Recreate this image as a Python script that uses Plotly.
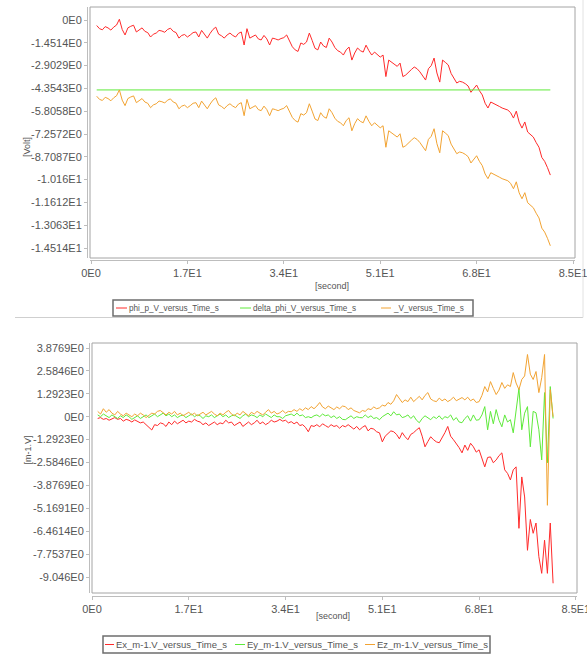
import plotly.graph_objects as go

# ---------------- data ----------------
time_s = [1.0 + 0.5 * i for i in range(161)]

phi_p = [-0.35, -0.55, -0.62, -0.42, -0.5, -0.64, -0.45, -0.32, 0.05, -0.6,
         -0.95, -0.5, -0.4, -0.33, -0.76, -0.6, -0.5, -0.72, -0.8, -1.08,
         -0.9, -0.83, -0.66, -0.7, -0.78, -0.6, -0.52, -0.72, -0.8, -1.15,
         -0.98, -0.92, -1.08, -0.95, -0.8, -0.76, -1.08, -0.66, -0.9, -1.15,
         -0.85, -0.6, -0.45, -0.9, -1.0, -1.15, -0.95, -0.83, -0.98, -1.08,
         -0.85, -0.76, -1.59, -0.55, -1.15, -1.05, -0.95, -1.2, -1.27, -0.98,
         -1.2, -1.59, -1.15, -1.2, -1.27, -1.18, -1.12, -0.95, -1.35, -1.7,
         -1.9, -2.0, -1.46, -1.55, -1.4, -0.83, -1.3, -1.8, -1.9, -1.4,
         -1.65, -1.75, -1.15, -1.4, -1.75, -1.95, -2.04, -2.23, -1.9, -1.72,
         -2.55, -2.1, -1.78, -1.95, -2.04, -1.6, -1.95, -2.23, -2.04, -2.2,
         -2.36, -2.23, -3.6, -2.55, -2.7, -2.86, -2.95, -2.74, -3.6, -3.5,
         -3.3, -3.15, -2.99, -3.1, -3.3, -3.6, -3.82, -3.1, -2.9, -2.42,
         -3.37, -3.95, -2.55, -2.7, -2.86, -3.4, -3.7, -4.01, -3.9, -3.95,
         -4.05, -4.2, -4.6, -4.4, -4.14, -4.5, -4.77, -5.3, -5.6, -5.22,
         -5.3, -5.41, -5.5, -5.6, -5.65, -5.73, -5.9, -6.24, -5.8, -6.5,
         -6.88, -6.49, -7.13, -7.3, -7.45, -7.8, -8.1, -8.75, -9.0, -9.4,
         -9.87]

total_v = [-4.85, -5.05, -5.12, -4.92, -5.0, -5.14, -4.95, -4.82, -4.45, -5.1,
           -5.45, -5.0, -4.9, -4.83, -5.26, -5.1, -5.0, -5.22, -5.3, -5.58,
           -5.4, -5.33, -5.16, -5.2, -5.28, -5.1, -5.02, -5.22, -5.3, -5.65,
           -5.48, -5.42, -5.58, -5.45, -5.3, -5.26, -5.58, -5.16, -5.4, -5.65,
           -5.35, -5.1, -4.95, -5.4, -5.5, -5.65, -5.45, -5.33, -5.48, -5.58,
           -5.35, -5.26, -6.09, -5.05, -5.65, -5.55, -5.45, -5.7, -5.77, -5.48,
           -5.7, -6.09, -5.65, -5.7, -5.77, -5.68, -5.62, -5.45, -5.85, -6.2,
           -6.4, -6.5, -5.96, -6.05, -5.9, -5.33, -5.8, -6.3, -6.4, -5.9,
           -6.15, -6.25, -5.65, -5.9, -6.25, -6.45, -6.54, -6.73, -6.4, -6.22,
           -7.05, -6.6, -6.28, -6.45, -6.54, -6.1, -6.45, -6.73, -6.54, -6.7,
           -6.86, -6.73, -8.1, -7.05, -7.2, -7.36, -7.45, -7.24, -8.1, -8.0,
           -7.8, -7.65, -7.49, -7.6, -7.8, -8.1, -8.32, -7.6, -7.4, -6.92,
           -7.87, -8.45, -7.05, -7.2, -7.36, -7.9, -8.2, -8.51, -8.4, -8.45,
           -8.55, -8.7, -9.1, -8.9, -8.64, -9.0, -9.27, -9.8, -10.1, -9.72,
           -9.8, -9.91, -10.0, -10.1, -10.15, -10.23, -10.4, -10.74, -10.3, -11.0,
           -11.38, -10.99, -11.63, -11.8, -11.95, -12.3, -12.6, -13.25, -13.5, -13.9,
           -14.37]

delta_phi_time = [1.0, 81.0]
delta_phi = [-4.45, -4.45]

ex = [-0.1, -0.05, -0.15, -0.1, -0.2, -0.12, -0.05, -0.15, -0.1, -0.25,
      -0.15, -0.2, -0.3, -0.18, -0.25, -0.35, -0.3, -0.45, -0.6, -0.75,
      -0.45, -0.5, -0.35, -0.4, -0.55, -0.3, -0.45, -0.25, -0.4, -0.3,
      -0.2, -0.35, -0.25, -0.3, -0.15, -0.25, -0.3, -0.45, -0.35, -0.5,
      -0.4, -0.3, -0.45, -0.35, -0.4, -0.2, -0.35, -0.3, -0.5, -0.4,
      -0.3, -0.55, -0.4, -0.3, -0.45, -0.35, -0.2, -0.4, -0.3, -0.45,
      -0.35, -0.2, -0.3, -0.25, -0.15, -0.25, -0.2, -0.35, -0.28, -0.4,
      -0.3, -0.5, -0.45, -0.6, -0.85, -0.5, -0.55, -0.45, -0.57, -0.4,
      -0.5, -0.6, -0.45, -0.55, -0.5, -0.65, -0.5, -0.57, -0.45, -0.6,
      -0.7, -0.55, -0.74, -0.6, -0.5, -0.8, -0.65, -0.7, -0.85, -0.91,
      -1.42, -1.1, -0.95, -0.8, -0.85, -1.0, -1.25, -0.9, -1.13, -1.3,
      -1.0, -0.9, -0.75, -0.62, -1.1, -1.7, -1.4, -1.13, -1.3, -1.42,
      -1.47, -1.2, -0.9, -0.55, -1.1, -1.3, -1.5, -1.75, -2.04, -1.6,
      -1.9, -1.5, -1.7, -2.0, -1.87, -2.3, -2.83, -2.3, -2.27, -2.6,
      -2.44, -2.2, -2.04, -3.0, -3.2, -3.57, -3.0, -2.83, -6.3, -3.4,
      -4.53, -7.54, -5.8, -6.58, -6.0, -7.9, -8.84, -6.97, -8.84, -6.0,
      -9.4]

ey = [0.1, 0.0, 0.15, 0.05, -0.05, 0.1, 0.0, -0.1, 0.05, -0.05,
      0.1, 0.0, -0.15, -0.05, 0.05, -0.1, 0.0, 0.1, -0.05, 0.05,
      0.15, 0.0, 0.1, 0.2, 0.05, 0.15, 0.0, 0.1, -0.05, 0.05,
      0.1, -0.05, 0.05, 0.15, 0.0, 0.1, 0.05, -0.1, 0.05, 0.0,
      0.1, -0.05, 0.05, 0.15, 0.0, 0.1, -0.05, 0.05, 0.1, 0.0,
      -0.1, 0.05, 0.15, 0.0, 0.1, 0.05, -0.05, 0.1, 0.0, 0.15,
      0.05, -0.05, 0.1, 0.0, 0.0, -0.1, 0.05, 0.1, 0.15, 0.05,
      0.2, 0.05, 0.1, -0.05, 0.0, -0.06, 0.05, 0.1, 0.0, 0.15,
      0.05, 0.1, -0.05, 0.05, -0.1, 0.0, -0.15, -0.17, -0.05, 0.05,
      -0.1, 0.0, -0.05, -0.06, 0.1, -0.05, 0.05, -0.1, -0.05, -0.17,
      0.0, 0.1, 0.2, 0.05, 0.28, 0.1, 0.15, -0.05, 0.0, 0.1,
      -0.1, 0.05, -0.2, -0.34, -0.1, 0.05, -0.06, -0.17, 0.0, -0.1,
      0.05, -0.15, 0.0, -0.06, 0.1, -0.2, -0.05, -0.3, -0.34, -0.1,
      0.05, -0.25, 0.1, -0.2, -0.17, 0.1, 0.57, -0.74, 0.3, -0.4,
      0.4, -0.2, -0.57, 0.1, -0.3, -0.17, -0.91, 0.5, 1.6, -0.74,
      0.2, 0.57, -1.7, 0.3, 0.22, -0.74, -2.44, 1.36, -2.6, 1.7,
      -0.1]

ez = [0.3, 0.15, 0.45, 0.25, 0.4, 0.2, 0.1, 0.3, 0.15, 0.05,
      0.2, 0.1, 0.0, 0.15, 0.05, 0.2, 0.1, -0.05, 0.1, 0.2,
      0.15, 0.3, 0.35, 0.2, 0.1, 0.25, 0.15, 0.3, 0.1, 0.2,
      0.05, 0.15, 0.25, 0.1, 0.2, 0.05, 0.15, 0.25, 0.1, 0.2,
      0.3, 0.15, 0.05, 0.2, 0.1, 0.25, 0.35, 0.15, 0.05, 0.2,
      0.1, 0.3, 0.2, 0.05, 0.25, 0.15, 0.3, 0.2, 0.1, 0.25,
      0.4, 0.2, 0.3, 0.15, 0.22, 0.35, 0.2, 0.3, 0.28, 0.4,
      0.3, 0.45, 0.35, 0.5, 0.4, 0.57, 0.45, 0.6, 0.8, 0.55,
      0.45, 0.6, 0.5, 0.4, 0.55, 0.45, 0.6, 0.57, 0.4, 0.5,
      0.35, 0.3, 0.22, 0.35, 0.3, 0.45, 0.4, 0.55, 0.45, 0.5,
      0.65, 0.6, 0.8, 0.7, 0.9, 1.25, 1.0, 0.8, 0.95, 0.85,
      1.1, 0.85, 1.0, 1.15, 0.95, 1.2, 1.36, 1.0, 0.9, 0.85,
      1.05, 0.9, 1.0, 0.85, 0.95, 1.1, 0.9, 1.0, 1.08, 0.95,
      1.1, 0.9, 1.0, 0.8, 0.85, 1.2, 1.7, 1.4, 1.98, 1.6,
      1.25, 1.5, 1.93, 1.6, 1.8, 1.7, 2.49, 1.9, 1.53, 2.1,
      2.3, 3.51, 2.4, 2.1, 2.55, 1.36, 2.2, 3.51, -5.0, 1.53,
      0.0]

top_names = ["phi_p_V_versus_Time_s", "delta_phi_V_versus_Time_s", "_V_versus_Time_s"]
bottom_names = ["Ex_m-1.V_versus_Time_s", "Ey_m-1.V_versus_Time_s", "Ez_m-1.V_versus_Time_s"]

x_tickvals = [0, 17, 34, 51, 68, 85]
x_ticktext = ["0E0", "1.7E1", "3.4E1", "5.1E1", "6.8E1", "8.5E1"]
top_tickvals = [0, -1.4514, -2.9029, -4.3543, -5.8058, -7.2572, -8.7087,
                -10.16, -11.612, -13.063, -14.514]
top_ticktext = ["0E0", "-1.4514E0", "-2.9029E0", "-4.3543E0", "-5.8058E0",
                "-7.2572E0", "-8.7087E0", "-1.016E1", "-1.1612E1", "-1.3063E1",
                "-1.4514E1"]
bot_tickvals = [3.8769, 2.5846, 1.2923, 0, -1.2923, -2.5846, -3.8769,
                -5.1691, -6.4614, -7.7537, -9.046]
bot_ticktext = ["3.8769E0", "2.5846E0", "1.2923E0", "0E0", "-1.2923E0",
                "-2.5846E0", "-3.8769E0", "-5.1691E0", "-6.4614E0",
                "-7.7537E0", "-9.046E0"]

colors = ["#ff2a2a", "#5eea3a", "#f2a332"]

# ---------------- layout helpers ----------------
W, H = 587, 656


def fx(p):
    return p / W


def fy(p):
    return 1 - p / H


FONT = "Liberation Sans, Arial, sans-serif"
TXT = "#555555"
FRAME = "#a4a4a4"
AXIS = "#bdbdbd"

fig = go.Figure()

fig.add_trace(go.Scatter(x=time_s, y=phi_p, mode="lines", name=top_names[0],
                         line=dict(color=colors[0], width=1), xaxis="x", yaxis="y"))
fig.add_trace(go.Scatter(x=delta_phi_time, y=delta_phi, mode="lines", name=top_names[1],
                         line=dict(color=colors[1], width=1), xaxis="x", yaxis="y"))
fig.add_trace(go.Scatter(x=time_s, y=total_v, mode="lines", name=top_names[2],
                         line=dict(color=colors[2], width=1), xaxis="x", yaxis="y"))

fig.add_trace(go.Scatter(x=time_s, y=ex, mode="lines", name=bottom_names[0],
                         line=dict(color=colors[0], width=1), xaxis="x2", yaxis="y2"))
fig.add_trace(go.Scatter(x=time_s, y=ey, mode="lines", name=bottom_names[1],
                         line=dict(color=colors[1], width=1), xaxis="x2", yaxis="y2"))
fig.add_trace(go.Scatter(x=time_s, y=ez, mode="lines", name=bottom_names[2],
                         line=dict(color=colors[2], width=1), xaxis="x2", yaxis="y2"))

axis_common = dict(showgrid=False, zeroline=False, showline=True, linecolor=AXIS,
                   linewidth=1, mirror=False, ticks="outside", ticklen=3,
                   tickcolor=AXIS, automargin=False, ticklabeloverflow="allow",
                   tickfont=dict(family=FONT, size=11, color=TXT))

fig.update_layout(
    width=W, height=H, margin=dict(l=0, r=0, t=0, b=0, pad=0, autoexpand=False),
    paper_bgcolor="white", plot_bgcolor="white", showlegend=False,
    xaxis=dict(domain=[fx(90), fx(575)], range=[-0.18, 85.35], anchor="free",
               position=fy(260), tickmode="array", tickvals=x_tickvals,
               ticktext=x_ticktext, **axis_common),
    yaxis=dict(domain=[fy(258), fy(7)], range=[-15.15, 0.83], anchor="free",
               position=fx(87), tickmode="array", tickvals=top_tickvals,
               ticktext=top_ticktext, **axis_common),
    xaxis2=dict(domain=[fx(92), fx(577)], range=[0, 85.2], anchor="free",
                position=fy(596), tickmode="array", tickvals=x_tickvals,
                ticktext=x_ticktext, **axis_common),
    yaxis2=dict(domain=[fy(593), fy(343)], range=[-9.949, 4.159], anchor="free",
                position=fx(89), tickmode="array", tickvals=bot_tickvals,
                ticktext=bot_ticktext, **axis_common),
)

shapes = []
annotations = []

# plot frames (outline of each data area)
shapes.append(dict(type="rect", xref="x domain", yref="y domain", x0=0, x1=1, y0=0, y1=1,
                   line=dict(color=FRAME, width=1), layer="below"))
shapes.append(dict(type="rect", xref="x2 domain", yref="y2 domain", x0=0, x1=1, y0=0, y1=1,
                   line=dict(color=FRAME, width=1), layer="below"))

# axis titles
annotations.append(dict(text="[Volt]", x=fx(20), y=fy(135), xref="paper", yref="paper",
                        showarrow=False, textangle=-90, font=dict(family=FONT, size=9, color=TXT)))
annotations.append(dict(text="[second]", x=fx(332), y=fy(286), xref="paper", yref="paper",
                        showarrow=False, font=dict(family=FONT, size=9, color=TXT)))
annotations.append(dict(text="[m-1.V]", x=fx(20), y=fy(467), xref="paper", yref="paper",
                        showarrow=False, textangle=-90, font=dict(family=FONT, size=9, color=TXT)))
annotations.append(dict(text="[second]", x=fx(333), y=fy(623), xref="paper", yref="paper",
                        showarrow=False, font=dict(family=FONT, size=9, color=TXT)))


def legend_box(x0, x1, y0, y1, items, size):
    shapes.append(dict(type="rect", xref="paper", yref="paper", x0=fx(x0), x1=fx(x1),
                       y0=fy(y1), y1=fy(y0), line=dict(color="#6e6e6e", width=1.5),
                       fillcolor="white"))
    yc = (y0 + y1) / 2
    for (lx0, lx1, tx, name, col) in items:
        shapes.append(dict(type="line", xref="paper", yref="paper", x0=fx(lx0), x1=fx(lx1),
                           y0=fy(yc), y1=fy(yc), line=dict(color=col, width=1)))
        annotations.append(dict(text=name, x=fx(tx), y=fy(yc), xref="paper", yref="paper",
                                xanchor="left", yanchor="middle", showarrow=False,
                                borderpad=0, font=dict(family=FONT, size=size, color=TXT)))


legend_box(113, 473, 300, 316,
           [(116, 127, 128, top_names[0], colors[0]),
            (240, 251, 252, top_names[1], colors[1]),
            (381, 391, 392, top_names[2], colors[2])], 8.2)
legend_box(103, 490, 636, 653,
           [(105, 114, 115, bottom_names[0], colors[0]),
            (235, 245, 246, bottom_names[1], colors[1]),
            (365, 375, 376, bottom_names[2], colors[2])], 9.5)

# panel separator lines
shapes.append(dict(type="line", xref="paper", yref="paper", x0=fx(15), x1=fx(583),
                   y0=fy(317.5), y1=fy(317.5), line=dict(color="#cfcfcf", width=1)))
shapes.append(dict(type="line", xref="paper", yref="paper", x0=fx(583), x1=fx(583),
                   y0=fy(0), y1=fy(317.5), line=dict(color="#e2e2e2", width=1)))

fig.update_layout(shapes=shapes, annotations=annotations)

fig.write_html("out.html", config={"displayModeBar": False},
               post_script="document.body.style.margin='0';")
